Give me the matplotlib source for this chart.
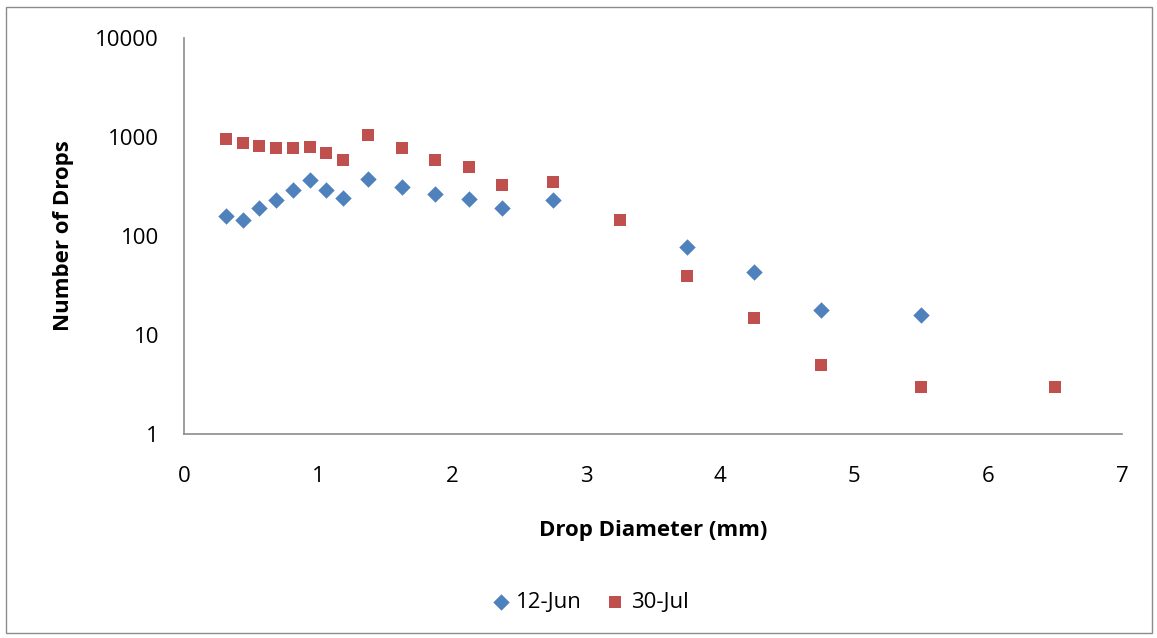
import matplotlib
matplotlib.use("Agg")
from matplotlib import pyplot as plt
from matplotlib.patches import Rectangle
from matplotlib.ticker import FixedLocator, FixedFormatter

# drop counts per diameter class, two sampling days
diam_jun = [0.3125, 0.4375, 0.5625, 0.6875, 0.8125, 0.9375, 1.0625, 1.1875,
            1.375, 1.625, 1.875, 2.125, 2.375, 2.75, 3.75, 4.25, 4.75, 5.5]
count_jun = [160, 145, 190, 230, 290, 365, 290, 240,
             375, 315, 265, 235, 190, 230, 78, 43, 18, 16]

diam_jul = [0.3125, 0.4375, 0.5625, 0.6875, 0.8125, 0.9375, 1.0625, 1.1875,
            1.375, 1.625, 1.875, 2.125, 2.375, 2.75, 3.25, 3.75, 4.25, 4.75, 5.5, 6.5]
count_jul = [950, 870, 810, 775, 775, 790, 690, 585,
             1040, 775, 585, 495, 330, 350, 145, 39, 15, 5, 3, 3]

x_ticks = [0, 1, 2, 3, 4, 5, 6, 7]
y_ticks = [1, 10, 100, 1000, 10000]
y_tick_labels = ["1", "10", "100", "1000", "10000"]

plt.rcParams['font.family'] = ['Open Sans', 'DejaVu Sans']

W, H = 1157, 638
fig = plt.figure(figsize=(W / 100, H / 100), dpi=100)

# chart frame
fig.patches.append(Rectangle((6 / W, 1 - 633 / H), 1146 / W, 626 / H, transform=fig.transFigure,
                             fill=False, edgecolor='#8c8c8c', linewidth=1))

ax = fig.add_axes([184 / W, 1 - 434 / H, (1122 - 184) / W, (434 - 38) / H])
ax.set_yscale('log')
ax.set_xlim(0, 7)
ax.set_ylim(1, 10000)

ax.scatter(diam_jun, count_jun, marker='D', s=70, color='#4F81BD', linewidths=0,
           label='12-Jun', zorder=3)
ax.scatter(diam_jul, count_jul, marker='s', s=78, color='#C0504D', linewidths=0,
           label='30-Jul', zorder=3)

for side in ['top', 'right']:
    ax.spines[side].set_visible(False)
for side in ['left', 'bottom']:
    ax.spines[side].set_color('#8c8c8c')
    ax.spines[side].set_linewidth(1.2)

ax.xaxis.set_major_locator(FixedLocator(x_ticks))
ax.yaxis.set_major_locator(FixedLocator(y_ticks))
ax.yaxis.set_major_formatter(FixedFormatter(y_tick_labels))
ax.yaxis.set_minor_locator(FixedLocator([]))
ax.tick_params(axis='both', length=0, labelsize=16, colors='black')
ax.tick_params(axis='x', pad=23)
ax.tick_params(axis='y', pad=18)

ax.set_xlabel('Drop Diameter (mm)', fontsize=16, fontweight='bold', labelpad=24)
ax.set_ylabel('Number of Drops', fontsize=16, fontweight='bold', labelpad=15)

fig.legend(loc='center', bbox_to_anchor=(589 / W, 1 - 602 / H), ncol=2, frameon=False,
           fontsize=16, handletextpad=0.2, columnspacing=1.0, handlelength=1.0)

fig.savefig('out.png', dpi=100)
